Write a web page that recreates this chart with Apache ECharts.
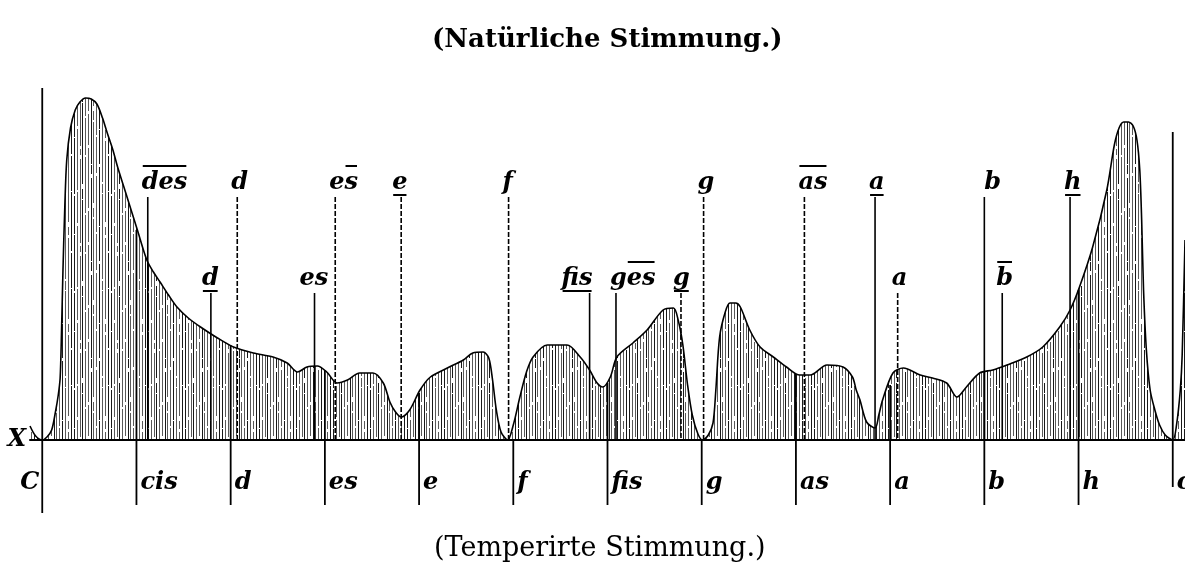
<!DOCTYPE html>
<html><head><meta charset="utf-8">
<script src="https://cdn.jsdelivr.net/npm/echarts@6/dist/echarts.min.js"></script>
<style>html,body{margin:0;padding:0;background:#fff}#c{width:1185px;height:572px}</style>
</head><body><div id="c"></div>
<script>
// ---- data (cents above C, curve height) ----
const curveCents = [-13,-7,0,5,10,14,17,19,20.5,22,24,26,30,35,40,46,52,58,64,69,75,80,90,101,111,118,125,134,143,155,168,186,203,224,245,260,271,281,292,302,313,324,337,351,362,369,375,381,390,401,412,430,447,457,468,474,478,482,487,494,500,507,514,521,536,557,571,581,589,595,603,610,627,642,659,670,675,680,685,690,696,701,707,712,715,719,725,730,736,741,751,762,776,790,804,815,833,850,860,864,868,875,884,888,892,903,914,932,945,960,971,981,995,1009,1024,1045,1062,1080,1091,1101,1115,1130,1138,1143,1148,1153,1158,1162,1165,1167,1169,1172,1176,1181,1186,1192,1200,1204,1208,1210,1213];
const curveValues = [14,4,0,3,10,28,45,62,110,170,235,280,312,330,338,342,341,336,322,307,290,273,243,210,180,168,158,145,133,122,113,102,93,87,83,77,68,73,74,68,57,60,67,67,57,38,28,23,30,50,63,72,80,87,88,82,60,30,8,0,15,43,68,83,95,95,83,70,57,53,63,83,97,110,130,132,120,95,55,25,6,0,5,17,50,103,128,137,137,133,110,93,83,73,65,65,75,73,63,50,40,18,12,25,40,67,72,65,62,57,43,53,67,70,75,83,93,113,130,153,193,250,295,312,318,318,314,300,270,220,150,90,50,30,15,5,0,15,50,85,200];

const naturalLabels = ['‾des','d','_d','es','e‾s','_e','f','_fis','g‾es','_g','g','‾as','_a','a','b','‾b','_h'];
const naturalCents  = [112,207,179,289,311,381,495,581,609,678,702,809,884,908,1000,1019,1091];
const naturalRow    = [1,1,2,2,1,1,1,2,2,2,1,1,1,2,1,2,1];

const temperedLabels = ['C','cis','d','es','e','f','fis','g','as','a','b','h','c'];
const temperedCents  = [0,100,200,300,400,500,600,700,800,900,1000,1100,1200];
const temperedTops   = [352,210,95,70,47,0,57,0,66,55,68,150,308];

const topTitle = '(Natürliche Stimmung.)';
const bottomTitle = '(Temperirte Stimmung.)';

// ---- styles ----
const LABEL_FONT = 'italic bold 24px "DejaVu Serif"';
const rowTop = {1: 243, 2: 147};
const labelShift = {2:-9, 3:-15, 5:-9, 7:-28, 14:0, 9:-8};
const dashedIdx = new Set([1,4,5,6,9,10,11,13]);

const mctx = document.createElement('canvas').getContext('2d');
mctx.font = LABEL_FONT;
const tw = s => mctx.measureText(s).width;

// hatch pattern
const pat = document.createElement('canvas'); pat.width = 37; pat.height = 97;
const pg = pat.getContext('2d');
const hx = [0,3,6,8,11,14,17,19,22,25,28,31,34];
hx.forEach((x,i)=>{
  pg.fillStyle = i%3===0 ? 'rgba(0,0,0,0.9)' : 'rgba(0,0,0,0.65)';
  pg.fillRect(x,0,1,97);
  pg.clearRect(x,(i*29)%97,1,2+(i%4));
  pg.clearRect(x,(i*53+40)%97,1,1+(i%3));
});

const chart = echarts.init(document.getElementById('c'), null, {renderer:'canvas'});

function natItem(params, api){
  const i = params.dataIndex;
  const c = api.value(0), top = api.value(1);
  const p1 = api.coord([c, top]), p0 = api.coord([c, 0]);
  let raw = naturalLabels[i], mode = null, pre = '', bar = '';
  if (raw[0] === '_') { mode = 'under'; bar = raw.slice(1); }
  else if (raw.indexOf('‾') >= 0) { mode = 'over'; const k = raw.indexOf('‾'); pre = raw.slice(0,k); bar = raw.slice(k+1); }
  else pre = raw;
  const text = pre + bar;
  const tx = p1[0] + (labelShift[i] !== undefined ? labelShift[i] : -6);
  const cy = p1[1] - 14;
  const children = [
    {type:'line', shape:{x1:p1[0], y1:p1[1], x2:p0[0], y2:p0[1]},
     style:{stroke:'#000', lineWidth:1.6, lineDash: dashedIdx.has(i) ? [5,2] : null}},
    {type:'text', style:{text, x:tx, y:cy, font:LABEL_FONT, fill:'#000', align:'left', verticalAlign:'middle'}}
  ];
  if (mode) {
    const bx = tx + tw(pre), bw = tw(bar);
    const by = mode === 'over' ? cy - 17 : cy + 12;
    children.push({type:'line', shape:{x1:bx+1, y1:by, x2:bx+bw-1, y2:by}, style:{stroke:'#000', lineWidth:2}});
  }
  return {type:'group', children};
}

function tempItem(params, api){
  const i = params.dataIndex;
  const c = api.value(0), top = api.value(1);
  const bottom = i === 0 ? -73 : (i === temperedLabels.length-1 ? -47 : -65);
  const p1 = api.coord([c, top]), p0 = api.coord([c, bottom]);
  const lp = api.coord([c, -43]);
  return {type:'group', children:[
    {type:'line', shape:{x1:p1[0], y1:p1[1], x2:p0[0], y2:p0[1]}, style:{stroke:'#000', lineWidth:1.8}},
    {type:'text', style:{text: temperedLabels[i], x: i===0 ? lp[0]-3 : lp[0]+4, y: lp[1], font:LABEL_FONT, fill:'#000',
      align: i===0 ? 'right' : 'left', verticalAlign:'middle'}}
  ]};
}

chart.setOption({
  backgroundColor:'#fff',
  animation:false,
  title:[
    {text: topTitle, left: 427, top: 22, textStyle:{fontFamily:'DejaVu Serif', fontWeight:'bold', fontSize:26, color:'#000'}},
    {text: bottomTitle, left: 429, top: 530, textStyle:{fontFamily:'DejaVu Serif', fontWeight:'normal', fontSize:27, color:'#000'}}
  ],
  grid:{left:30, right:0, top:40, bottom:0},
  xAxis:{type:'value', min:-13, max:1213,
    axisLine:{onZero:true, lineStyle:{color:'#000', width:2}},
    axisTick:{show:false}, axisLabel:{show:false}, splitLine:{show:false},
    name:'X', nameLocation:'start', nameGap:4,
    nameTextStyle:{fontFamily:'DejaVu Serif', fontStyle:'italic', fontWeight:'bold', fontSize:24, color:'#000', verticalAlign:'middle'}},
  yAxis:{type:'value', min:-132, max:400, show:false},
  series:[
    {type:'line', data: curveCents.map((c,i)=>[c, curveValues[i]]), smooth:0.3, showSymbol:false,
     lineStyle:{color:'#000', width:1.6}, areaStyle:{color:{image:pat, repeat:'repeat'}, opacity:1}, z:2},
    {type:'custom', renderItem: tempItem, data: temperedCents.map((c,i)=>[c, temperedTops[i]]), z:3},
    {type:'custom', renderItem: natItem, data: naturalCents.map((c,i)=>[c, rowTop[naturalRow[i]]]), z:4}
  ]
});
</script>
</body></html>
